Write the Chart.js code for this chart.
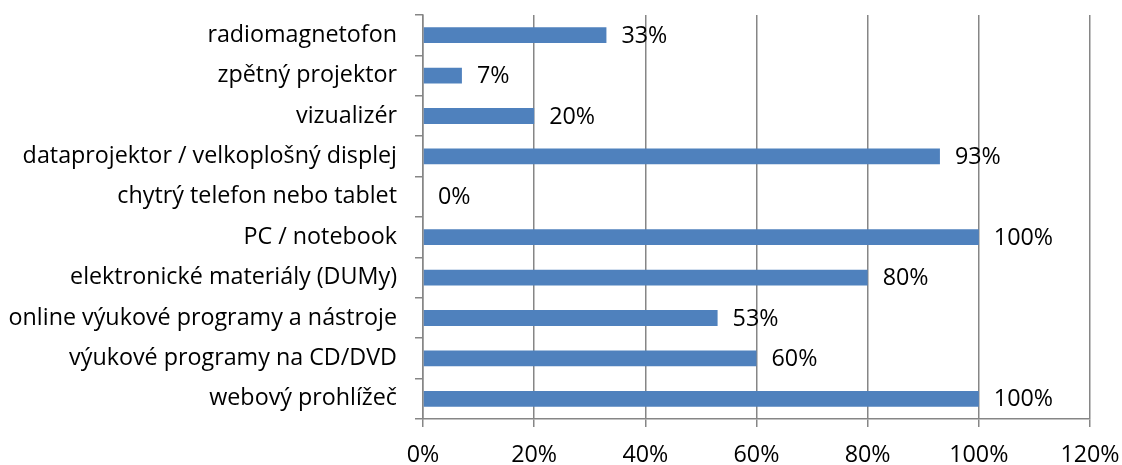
<!DOCTYPE html>
<html lang="cs">
<head>
    <meta charset="UTF-8">
    <title>Využívané technologie</title>
    <script src="https://cdn.jsdelivr.net/npm/chart.js"></script>
    <style>
        body { margin: 0; background: #fff; }
        #wrap { width: 1122px; height: 465px; }
    </style>
</head>
<body>
<div id="wrap"><canvas id="barChart"></canvas></div>
<script>
    // categories top to bottom, share of respondents in %
    const categories = [
        'radiomagnetofon',
        'zpětný projektor',
        'vizualizér',
        'dataprojektor / velkoplošný displej',
        'chytrý telefon nebo tablet',
        'PC / notebook',
        'elektronické materiály (DUMy)',
        'online výukové programy a nástroje',
        'výukové programy na CD/DVD',
        'webový prohlížeč'
    ];
    const shares = [33, 7, 20, 93, 0, 100, 80, 53, 60, 100];
    const axisTicks = [0, 20, 40, 60, 80, 100, 120];

    const FONT = "'Open Sans', sans-serif";
    const FONT_SIZE = 23.3;
    const GRID = '#868686';

    // value labels drawn just past the end of each bar
    const valueLabels = {
        id: 'valueLabels',
        afterDatasetsDraw(chart) {
            const ctx = chart.ctx;
            const meta = chart.getDatasetMeta(0);
            ctx.save();
            ctx.font = FONT_SIZE + 'px ' + FONT;
            ctx.fillStyle = '#000';
            ctx.textBaseline = 'middle';
            ctx.textAlign = 'left';
            meta.data.forEach((bar, i) => {
                ctx.fillText(shares[i] + '%', bar.x + 15, bar.y + 1);
            });
            ctx.restore();
        }
    };

    new Chart(document.getElementById('barChart'), {
        type: 'bar',
        data: {
            labels: categories,
            datasets: [{
                data: shares,
                backgroundColor: '#4F81BD',
                barPercentage: 0.39,
                categoryPercentage: 1
            }]
        },
        options: {
            indexAxis: 'y',
            responsive: true,
            maintainAspectRatio: false,
            animation: false,
            layout: { padding: { top: 15, right: 32, left: 0, bottom: 0 } },
            plugins: { legend: { display: false }, tooltip: { enabled: false } },
            scales: {
                x: {
                    min: 0,
                    max: 120,
                    afterBuildTicks(scale) {
                        scale.ticks = axisTicks.map(v => ({ value: v }));
                    },
                    afterFit(scale) {
                        scale.height = 46;
                        scale.paddingLeft = 0;
                        scale.paddingRight = 0;
                    },
                    ticks: {
                        callback: v => v + '%',
                        color: '#000',
                        font: { family: FONT, size: FONT_SIZE },
                        padding: 14,
                        maxRotation: 0
                    },
                    grid: { color: GRID, lineWidth: 1.5, tickLength: 8 },
                    border: { color: GRID, width: 1.5 }
                },
                y: {
                    afterFit(scale) {
                        scale.width = 423;
                        scale.paddingTop = 0;
                        scale.paddingBottom = 0;
                    },
                    ticks: {
                        color: '#000',
                        font: { family: FONT, size: FONT_SIZE },
                        padding: 18,
                        autoSkip: false
                    },
                    grid: { offset: true, drawOnChartArea: false, color: GRID, lineWidth: 1.5, tickLength: 8 },
                    border: { color: GRID, width: 1.5 }
                }
            }
        },
        plugins: [valueLabels]
    });
</script>
</body>
</html>
